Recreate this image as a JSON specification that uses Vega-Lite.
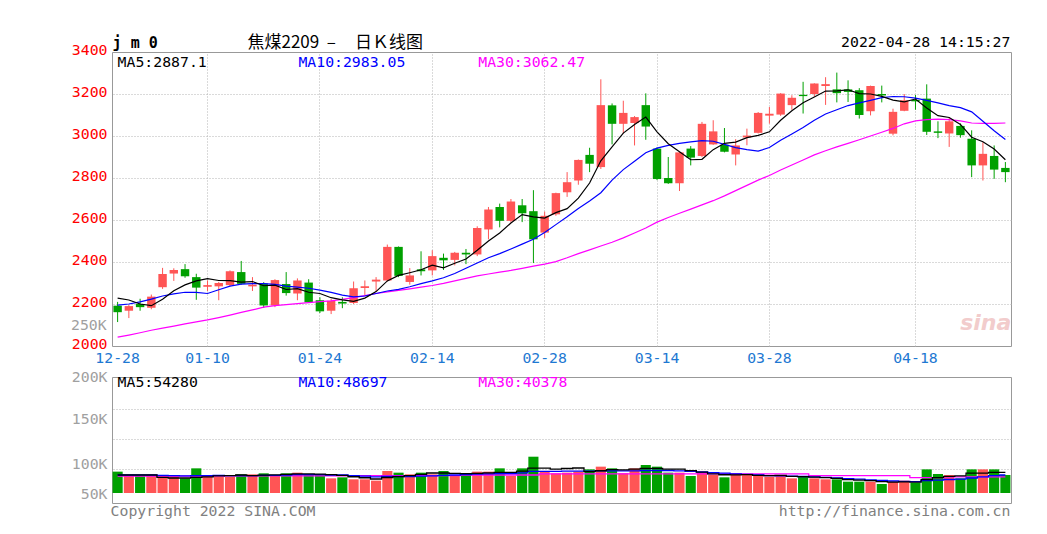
{
"$schema":"https://vega.github.io/schema/vega-lite/v6.json",
"background":"white",
"padding":{"left":70,"top":33,"right":5,"bottom":5},
"spacing":2,
"config":{"view":{"stroke":"#999","strokeWidth":1},"font":"DejaVu Sans Mono","axis":{"gridColor":"#b4b4b4","gridDash":[1,2],"tickSize":0,"domain":false,"labelFont":"DejaVu Sans Mono","labelFontSize":14.8,"title":null}},
"datasets":{"k":[
{"d":"12-28","o":2192,"h":2210,"l":2114,"c":2161,"m5":2228,"m10":2195,"m30":2042,"v":45600,"v5":40000,"v10":40000,"v30":38000},
{"d":"12-29","o":2168,"h":2195,"l":2133,"c":2190,"m5":2219,"m10":2200,"m30":2052,"v":38300,"v5":40000,"v10":40000,"v30":38000},
{"d":"12-30","o":2200,"h":2225,"l":2168,"c":2185,"m5":2200,"m10":2210,"m30":2063,"v":38300,"v5":40000,"v10":40000,"v30":38000},
{"d":"12-31","o":2182,"h":2245,"l":2175,"c":2235,"m5":2192,"m10":2223,"m30":2075,"v":38300,"v5":40000,"v10":40000,"v30":38000},
{"d":"01-04","o":2280,"h":2372,"l":2272,"c":2343,"m5":2223,"m10":2238,"m30":2085,"v":38300,"v5":36000,"v10":39500,"v30":38000},
{"d":"01-05","o":2345,"h":2370,"l":2310,"c":2362,"m5":2263,"m10":2248,"m30":2095,"v":38300,"v5":35000,"v10":39000,"v30":38000},
{"d":"01-06","o":2366,"h":2390,"l":2325,"c":2332,"m5":2291,"m10":2256,"m30":2105,"v":34400,"v5":35000,"v10":38500,"v30":38000},
{"d":"01-07","o":2328,"h":2344,"l":2220,"c":2278,"m5":2310,"m10":2255,"m30":2115,"v":51100,"v5":36000,"v10":39000,"v30":38000},
{"d":"01-10","o":2282,"h":2312,"l":2262,"c":2290,"m5":2321,"m10":2250,"m30":2124,"v":38300,"v5":37000,"v10":39000,"v30":38000},
{"d":"01-11","o":2284,"h":2305,"l":2218,"c":2300,"m5":2312,"m10":2268,"m30":2135,"v":37200,"v5":38500,"v10":39500,"v30":38000},
{"d":"01-12","o":2290,"h":2360,"l":2285,"c":2356,"m5":2311,"m10":2285,"m30":2147,"v":37200,"v5":39000,"v10":39000,"v30":38500},
{"d":"01-13","o":2352,"h":2405,"l":2292,"c":2296,"m5":2304,"m10":2295,"m30":2160,"v":41100,"v5":40000,"v10":39000,"v30":38500},
{"d":"01-14","o":2284,"h":2328,"l":2262,"c":2292,"m5":2307,"m10":2297,"m30":2172,"v":41100,"v5":39000,"v10":39000,"v30":38500},
{"d":"01-17","o":2298,"h":2304,"l":2181,"c":2193,"m5":2287,"m10":2297,"m30":2185,"v":42800,"v5":39900,"v10":39500,"v30":38500},
{"d":"01-18","o":2193,"h":2318,"l":2185,"c":2314,"m5":2290,"m10":2293,"m30":2192,"v":38300,"v5":40100,"v10":39500,"v30":38500},
{"d":"01-19","o":2295,"h":2352,"l":2240,"c":2252,"m5":2269,"m10":2285,"m30":2197,"v":42800,"v5":41200,"v10":40000,"v30":38500},
{"d":"01-20","o":2250,"h":2322,"l":2218,"c":2312,"m5":2273,"m10":2280,"m30":2202,"v":43900,"v5":41800,"v10":40500,"v30":38500},
{"d":"01-21","o":2302,"h":2318,"l":2205,"c":2208,"m5":2256,"m10":2275,"m30":2207,"v":41100,"v5":41800,"v10":40500,"v30":38500},
{"d":"01-24","o":2218,"h":2232,"l":2157,"c":2165,"m5":2250,"m10":2266,"m30":2211,"v":41100,"v5":41400,"v10":40500,"v30":38500},
{"d":"01-25","o":2168,"h":2224,"l":2152,"c":2215,"m5":2230,"m10":2255,"m30":2215,"v":34400,"v5":40700,"v10":40000,"v30":38500},
{"d":"01-26","o":2210,"h":2232,"l":2180,"c":2202,"m5":2220,"m10":2242,"m30":2222,"v":36100,"v5":39300,"v10":40000,"v30":38500},
{"d":"01-27","o":2205,"h":2307,"l":2200,"c":2275,"m5":2213,"m10":2234,"m30":2230,"v":32800,"v5":37100,"v10":39000,"v30":39000},
{"d":"01-28","o":2276,"h":2312,"l":2243,"c":2285,"m5":2228,"m10":2238,"m30":2240,"v":32800,"v5":35400,"v10":38000,"v30":39000},
{"d":"02-07","o":2307,"h":2328,"l":2259,"c":2316,"m5":2259,"m10":2250,"m30":2250,"v":30600,"v5":33300,"v10":37000,"v30":39000},
{"d":"02-08","o":2312,"h":2483,"l":2307,"c":2472,"m5":2310,"m10":2262,"m30":2258,"v":46700,"v5":35800,"v10":37500,"v30":39000},
{"d":"02-09","o":2472,"h":2474,"l":2328,"c":2334,"m5":2336,"m10":2270,"m30":2265,"v":43900,"v5":37400,"v10":37500,"v30":39000},
{"d":"02-10","o":2305,"h":2371,"l":2292,"c":2336,"m5":2349,"m10":2282,"m30":2272,"v":41100,"v5":39000,"v10":37500,"v30":39000},
{"d":"02-11","o":2365,"h":2451,"l":2336,"c":2356,"m5":2363,"m10":2297,"m30":2280,"v":43900,"v5":41200,"v10":38000,"v30":39000},
{"d":"02-14","o":2360,"h":2456,"l":2336,"c":2428,"m5":2385,"m10":2310,"m30":2288,"v":41100,"v5":43300,"v10":38500,"v30":39000},
{"d":"02-15","o":2420,"h":2440,"l":2362,"c":2408,"m5":2372,"m10":2325,"m30":2298,"v":46700,"v5":43300,"v10":39500,"v30":39000},
{"d":"02-16","o":2410,"h":2448,"l":2384,"c":2444,"m5":2394,"m10":2345,"m30":2310,"v":38300,"v5":42600,"v10":40000,"v30":39000},
{"d":"02-17","o":2444,"h":2462,"l":2390,"c":2436,"m5":2414,"m10":2370,"m30":2322,"v":41100,"v5":42200,"v10":40500,"v30":40000},
{"d":"02-18","o":2436,"h":2570,"l":2428,"c":2562,"m5":2456,"m10":2395,"m30":2334,"v":45600,"v5":42600,"v10":41500,"v30":40000},
{"d":"02-21","o":2555,"h":2662,"l":2508,"c":2650,"m5":2500,"m10":2420,"m30":2343,"v":45600,"v5":43500,"v10":42000,"v30":40000},
{"d":"02-22","o":2662,"h":2678,"l":2565,"c":2596,"m5":2538,"m10":2440,"m30":2352,"v":51100,"v5":44300,"v10":42500,"v30":40000},
{"d":"02-23","o":2596,"h":2700,"l":2588,"c":2688,"m5":2586,"m10":2462,"m30":2360,"v":38300,"v5":44300,"v10":42500,"v30":40000},
{"d":"02-24","o":2670,"h":2700,"l":2590,"c":2632,"m5":2626,"m10":2485,"m30":2370,"v":51100,"v5":46300,"v10":43500,"v30":40000},
{"d":"02-25","o":2642,"h":2742,"l":2395,"c":2508,"m5":2615,"m10":2508,"m30":2380,"v":70500,"v5":51300,"v10":46000,"v30":40000},
{"d":"02-28","o":2540,"h":2640,"l":2515,"c":2620,"m5":2609,"m10":2540,"m30":2390,"v":45600,"v5":51300,"v10":46000,"v30":42000},
{"d":"03-01","o":2627,"h":2730,"l":2620,"c":2728,"m5":2635,"m10":2578,"m30":2402,"v":42800,"v5":49700,"v10":46000,"v30":42000},
{"d":"03-02","o":2732,"h":2828,"l":2710,"c":2780,"m5":2654,"m10":2615,"m30":2420,"v":43900,"v5":50800,"v10":46500,"v30":42000},
{"d":"03-03","o":2788,"h":2888,"l":2768,"c":2886,"m5":2704,"m10":2655,"m30":2440,"v":45600,"v5":51700,"v10":46500,"v30":42000},
{"d":"03-04","o":2910,"h":2944,"l":2828,"c":2868,"m5":2776,"m10":2690,"m30":2458,"v":49400,"v5":45500,"v10":46500,"v30":42000},
{"d":"03-07","o":2852,"h":3270,"l":2843,"c":3147,"m5":2882,"m10":2730,"m30":2476,"v":53900,"v5":47100,"v10":47000,"v30":42000},
{"d":"03-08","o":3146,"h":3155,"l":2960,"c":3058,"m5":2948,"m10":2790,"m30":2494,"v":51100,"v5":48800,"v10":47000,"v30":42000},
{"d":"03-09","o":3058,"h":3168,"l":3012,"c":3110,"m5":3014,"m10":2840,"m30":2515,"v":42800,"v5":48600,"v10":47000,"v30":42000},
{"d":"03-10","o":3062,"h":3095,"l":2955,"c":3090,"m5":3055,"m10":2880,"m30":2538,"v":51100,"v5":49700,"v10":47000,"v30":42000},
{"d":"03-11","o":3147,"h":3203,"l":2982,"c":3045,"m5":3090,"m10":2920,"m30":2562,"v":56700,"v5":51100,"v10":47500,"v30":42000},
{"d":"03-14","o":2940,"h":2945,"l":2790,"c":2795,"m5":3020,"m10":2942,"m30":2590,"v":53900,"v5":51100,"v10":47500,"v30":42000},
{"d":"03-15","o":2800,"h":2900,"l":2772,"c":2775,"m5":2963,"m10":2955,"m30":2612,"v":43900,"v5":49700,"v10":47500,"v30":42000},
{"d":"03-16","o":2775,"h":2925,"l":2738,"c":2922,"m5":2925,"m10":2965,"m30":2632,"v":43900,"v5":49900,"v10":47000,"v30":42000},
{"d":"03-17","o":2940,"h":2952,"l":2860,"c":2897,"m5":2887,"m10":2972,"m30":2652,"v":38300,"v5":47400,"v10":46000,"v30":42000},
{"d":"03-18","o":2905,"h":3067,"l":2900,"c":3058,"m5":2889,"m10":2978,"m30":2672,"v":43900,"v5":44800,"v10":45000,"v30":42000},
{"d":"03-21","o":2960,"h":3075,"l":2958,"c":3022,"m5":2935,"m10":2975,"m30":2692,"v":40000,"v5":42000,"v10":44000,"v30":42000},
{"d":"03-22","o":2958,"h":3038,"l":2922,"c":2925,"m5":2965,"m10":2960,"m30":2715,"v":36100,"v5":40400,"v10":43000,"v30":42000},
{"d":"03-23","o":2912,"h":2985,"l":2860,"c":2955,"m5":2971,"m10":2945,"m30":2740,"v":42800,"v5":40200,"v10":42000,"v30":42000},
{"d":"03-24","o":2993,"h":3035,"l":2956,"c":3002,"m5":2992,"m10":2935,"m30":2765,"v":40000,"v5":40600,"v10":41000,"v30":42000},
{"d":"03-25","o":3015,"h":3114,"l":3012,"c":3110,"m5":3003,"m10":2928,"m30":2790,"v":38300,"v5":39400,"v10":40000,"v30":42000},
{"d":"03-28","o":3097,"h":3138,"l":3059,"c":3106,"m5":3020,"m10":2945,"m30":2812,"v":37200,"v5":38900,"v10":39000,"v30":42000},
{"d":"03-29","o":3102,"h":3204,"l":3096,"c":3202,"m5":3075,"m10":2980,"m30":2838,"v":38300,"v5":39300,"v10":38500,"v30":42000},
{"d":"03-30","o":3147,"h":3194,"l":3125,"c":3182,"m5":3120,"m10":3010,"m30":2862,"v":34400,"v5":37600,"v10":38000,"v30":42000},
{"d":"03-31","o":3196,"h":3258,"l":3107,"c":3190,"m5":3158,"m10":3040,"m30":2886,"v":38300,"v5":37300,"v10":37500,"v30":42000},
{"d":"04-01","o":3200,"h":3251,"l":3188,"c":3250,"m5":3186,"m10":3075,"m30":2910,"v":34400,"v5":36500,"v10":37000,"v30":39000},
{"d":"04-06","o":3238,"h":3280,"l":3148,"c":3247,"m5":3214,"m10":3105,"m30":2930,"v":32800,"v5":35600,"v10":36000,"v30":39000},
{"d":"04-07","o":3222,"h":3302,"l":3160,"c":3204,"m5":3215,"m10":3125,"m30":2948,"v":32800,"v5":34500,"v10":35000,"v30":39000},
{"d":"04-08","o":3222,"h":3265,"l":3162,"c":3210,"m5":3220,"m10":3145,"m30":2965,"v":28900,"v5":32400,"v10":34000,"v30":39000},
{"d":"04-11","o":3218,"h":3228,"l":3083,"c":3100,"m5":3202,"m10":3158,"m30":2982,"v":28900,"v5":31600,"v10":33000,"v30":39000},
{"d":"04-12","o":3118,"h":3240,"l":3098,"c":3238,"m5":3200,"m10":3170,"m30":3000,"v":28900,"v5":30500,"v10":32000,"v30":39000},
{"d":"04-13","o":3200,"h":3240,"l":3160,"c":3193,"m5":3189,"m10":3183,"m30":3018,"v":25000,"v5":28900,"v10":31000,"v30":39000},
{"d":"04-14","o":3011,"h":3130,"l":3003,"c":3115,"m5":3171,"m10":3188,"m30":3036,"v":28900,"v5":28100,"v10":30000,"v30":39000},
{"d":"04-15","o":3120,"h":3200,"l":3118,"c":3170,"m5":3163,"m10":3187,"m30":3058,"v":30600,"v5":28500,"v10":29500,"v30":39000},
{"d":"04-18","o":3172,"h":3195,"l":3125,"c":3165,"m5":3176,"m10":3180,"m30":3072,"v":27200,"v5":28100,"v10":29000,"v30":35500},
{"d":"04-19","o":3178,"h":3246,"l":3005,"c":3020,"m5":3133,"m10":3170,"m30":3078,"v":49400,"v5":32200,"v10":30500,"v30":35500},
{"d":"04-20","o":3022,"h":3070,"l":2990,"c":3015,"m5":3097,"m10":3158,"m30":3080,"v":41700,"v5":35600,"v10":31500,"v30":35500},
{"d":"04-21","o":3012,"h":3090,"l":2948,"c":3070,"m5":3088,"m10":3145,"m30":3078,"v":40000,"v5":37800,"v10":32500,"v30":37000},
{"d":"04-22","o":3048,"h":3060,"l":2992,"c":3004,"m5":3055,"m10":3135,"m30":3072,"v":34400,"v5":38500,"v10":33000,"v30":37000},
{"d":"04-25","o":2987,"h":3027,"l":2804,"c":2860,"m5":2994,"m10":3115,"m30":3062,"v":49400,"v5":43000,"v10":35000,"v30":37000},
{"d":"04-26","o":2860,"h":2970,"l":2788,"c":2915,"m5":2973,"m10":3070,"m30":3060,"v":49400,"v5":43000,"v10":37000,"v30":37000},
{"d":"04-27","o":2905,"h":2955,"l":2796,"c":2840,"m5":2938,"m10":3025,"m30":3060,"v":49400,"v5":44500,"v10":39000,"v30":37000},
{"d":"04-28","o":2848,"h":2876,"l":2780,"c":2828,"m5":2887,"m10":2983,"m30":3062,"v":40000,"v5":44500,"v10":40000,"v30":37000}
]},
"vconcat":[
{
"width":899,"height":294,
"data":{"name":"k"},
"resolve":{"axis":{"x":"independent","y":"independent"}},
"layer":[
{"mark":{"type":"rule","strokeWidth":1},
 "encoding":{
  "x":{"field":"d","type":"ordinal","scale":{"domain":["12-28","12-29","12-30","12-31","01-04","01-05","01-06","01-07","01-10","01-11","01-12","01-13","01-14","01-17","01-18","01-19","01-20","01-21","01-24","01-25","01-26","01-27","01-28","02-07","02-08","02-09","02-10","02-11","02-14","02-15","02-16","02-17","02-18","02-21","02-22","02-23","02-24","02-25","02-28","03-01","03-02","03-03","03-04","03-07","03-08","03-09","03-10","03-11","03-14","03-15","03-16","03-17","03-18","03-21","03-22","03-23","03-24","03-25","03-28","03-29","03-30","03-31","04-01","04-06","04-07","04-08","04-11","04-12","04-13","04-14","04-15","04-18","04-19","04-20","04-21","04-22","04-25","04-26","04-27","04-28"],"paddingInner":0,"paddingOuter":0},
   "axis":{"values":["12-28","01-10","01-24","02-14","02-28","03-14","03-28","04-18"],"grid":false,"labelAngle":0,"labelColor":"#1e78d2","labelPadding":4}},
  "y":{"field":"l","type":"quantitative","scale":{"domain":[2000,3400],"nice":false,"zero":false},
   "axis":{"values":[2000,2200,2400,2600,2800,3000,3200,3400],"format":"d","grid":false,"labelColor":"#ff0000","labelPadding":5,"labelOffset":-2,"labelOverlap":false}},
  "y2":{"field":"h"},
  "color":{"condition":{"test":"datum.c >= datum.o","value":"#ff5555"},"value":"#00a000"}}},
{"mark":{"type":"bar","width":{"band":0.75}},
 "encoding":{
  "x":{"field":"d","type":"ordinal","axis":{"orient":"top","values":["01-10","01-24","02-14","02-28","03-14","03-28","04-18"],"grid":true,"labels":false,"ticks":false,"domain":false}},
  "y":{"field":"o","type":"quantitative","axis":{"orient":"right","values":[2200,2400,2600,2800,3000,3200],"grid":true,"labels":false,"ticks":false,"domain":false}},
  "y2":{"field":"c"},
  "color":{"condition":{"test":"datum.c >= datum.o","value":"#ff5555"},"value":"#00a000"}}},
{"mark":{"type":"line","color":"#ff00ff","strokeWidth":1.2},"encoding":{"x":{"field":"d","type":"ordinal","axis":null},"y":{"field":"m30","type":"quantitative","axis":null}}},
{"mark":{"type":"line","color":"#0000ff","strokeWidth":1.2},"encoding":{"x":{"field":"d","type":"ordinal","axis":null},"y":{"field":"m10","type":"quantitative","axis":null}}},
{"mark":{"type":"line","color":"#000000","strokeWidth":1.2},"encoding":{"x":{"field":"d","type":"ordinal","axis":null},"y":{"field":"m5","type":"quantitative","axis":null}}},
{"data":{"values":[{}]},"mark":{"type":"text","text":"250K","align":"right","dx":-11,"fontSize":14.8,"color":"#a0a0a0"},"encoding":{"x":{"datum":"12-28","type":"ordinal","axis":null},"y":{"datum":2095,"type":"quantitative","axis":null}}},
{"data":{"values":[{}]},"mark":{"type":"text","text":"j m 0","align":"left","dx":-5,"fontWeight":"bold","fontSize":15,"color":"#000"},"encoding":{"x":{"datum":"12-28","type":"ordinal","axis":null},"y":{"datum":3442,"type":"quantitative","axis":null}}},
{"data":{"values":[{}]},"mark":{"type":"text","text":"焦煤2209\u00a0\u00a0–\u00a0\u00a0\u00a0\u00a0\u00a0日Ｋ线图","align":"left","dx":-5,"font":"Noto Sans CJK SC","fontSize":17,"color":"#000"},"encoding":{"x":{"datum":"01-14","type":"ordinal","axis":null},"y":{"datum":3442,"type":"quantitative","axis":null}}},
{"data":{"values":[{}]},"mark":{"type":"text","text":"2022-04-28 14:15:27","align":"right","dx":5,"fontSize":14.8,"color":"#000"},"encoding":{"x":{"datum":"04-28","type":"ordinal","axis":null},"y":{"datum":3442,"type":"quantitative","axis":null}}},
{"data":{"values":[{}]},"mark":{"type":"text","text":"MA5:2887.1","align":"left","dx":0,"fontSize":14.8,"color":"#000"},"encoding":{"x":{"datum":"12-28","type":"ordinal","axis":null},"y":{"datum":3349,"type":"quantitative","axis":null}}},
{"data":{"values":[{}]},"mark":{"type":"text","text":"MA10:2983.05","align":"left","dx":1,"fontSize":14.8,"color":"#0000ff"},"encoding":{"x":{"datum":"01-20","type":"ordinal","axis":null},"y":{"datum":3349,"type":"quantitative","axis":null}}},
{"data":{"values":[{}]},"mark":{"type":"text","text":"MA30:3062.47","align":"left","dx":1,"fontSize":14.8,"color":"#ff00ff"},"encoding":{"x":{"datum":"02-18","type":"ordinal","axis":null},"y":{"datum":3349,"type":"quantitative","axis":null}}},
{"data":{"values":[{}]},"mark":{"type":"text","text":"sina","align":"right","dx":6,"font":"DejaVu Sans","fontSize":22,"fontStyle":"italic","fontWeight":"bold","color":"#f2cccc"},"encoding":{"x":{"datum":"04-28","type":"ordinal","axis":null},"y":{"datum":2110,"type":"quantitative","axis":null}}}
]
},
{
"width":899,"height":126,
"data":{"name":"k"},
"resolve":{"axis":{"y":"independent"}},
"layer":[
{"mark":{"type":"bar","width":{"band":0.9}},
 "encoding":{
  "x":{"field":"d","type":"ordinal","scale":{"domain":["12-28","12-29","12-30","12-31","01-04","01-05","01-06","01-07","01-10","01-11","01-12","01-13","01-14","01-17","01-18","01-19","01-20","01-21","01-24","01-25","01-26","01-27","01-28","02-07","02-08","02-09","02-10","02-11","02-14","02-15","02-16","02-17","02-18","02-21","02-22","02-23","02-24","02-25","02-28","03-01","03-02","03-03","03-04","03-07","03-08","03-09","03-10","03-11","03-14","03-15","03-16","03-17","03-18","03-21","03-22","03-23","03-24","03-25","03-28","03-29","03-30","03-31","04-01","04-06","04-07","04-08","04-11","04-12","04-13","04-14","04-15","04-18","04-19","04-20","04-21","04-22","04-25","04-26","04-27","04-28"],"paddingInner":0,"paddingOuter":0},
   "axis":{"values":["01-10","01-24","02-14","02-28","03-14","03-28","04-18"],"grid":true,"labels":false,"ticks":false,"domain":false}},
  "y":{"field":"v","type":"quantitative","scale":{"domain":[-6667,203333],"nice":false,"zero":false},
   "axis":{"values":[7200,57200,132800,203000],"labelExpr":"datum.value > 180000 ? '200K' : datum.value > 100000 ? '150K' : datum.value > 30000 ? '100K' : '50K'","grid":false,"labelColor":"#a0a0a0","labelPadding":5,"labelOverlap":false}},
  "y2":{"datum":10000},
  "color":{"condition":{"test":"datum.c >= datum.o","value":"#ff5555"},"value":"#00a000"}}},
{"mark":{"type":"line","interpolate":"step","color":"#ff00ff","strokeWidth":1.3},"encoding":{"x":{"field":"d","type":"ordinal","axis":null},"y":{"field":"v30","type":"quantitative","axis":{"orient":"right","values":[50000,100000,150000],"grid":true,"labels":false,"ticks":false,"domain":false}}}},
{"mark":{"type":"line","interpolate":"step","color":"#0000ff","strokeWidth":1.3},"encoding":{"x":{"field":"d","type":"ordinal","axis":null},"y":{"field":"v10","type":"quantitative","axis":null}}},
{"mark":{"type":"line","interpolate":"step","color":"#000000","strokeWidth":1.3},"encoding":{"x":{"field":"d","type":"ordinal","axis":null},"y":{"field":"v5","type":"quantitative","axis":null}}},
{"data":{"values":[{}]},"mark":{"type":"text","text":"MA5:54280","align":"left","dx":0,"fontSize":14.8,"color":"#000"},"encoding":{"x":{"datum":"12-28","type":"ordinal","axis":null},"y":{"datum":193000,"type":"quantitative","axis":null}}},
{"data":{"values":[{}]},"mark":{"type":"text","text":"MA10:48697","align":"left","dx":1,"fontSize":14.8,"color":"#0000ff"},"encoding":{"x":{"datum":"01-20","type":"ordinal","axis":null},"y":{"datum":193000,"type":"quantitative","axis":null}}},
{"data":{"values":[{}]},"mark":{"type":"text","text":"MA30:40378","align":"left","dx":1,"fontSize":14.8,"color":"#ff00ff"},"encoding":{"x":{"datum":"02-18","type":"ordinal","axis":null},"y":{"datum":193000,"type":"quantitative","axis":null}}},
{"data":{"values":[{}]},"mark":{"type":"text","text":"Copyright 2022 SINA.COM","align":"left","dx":-7,"fontSize":14.8,"color":"#808080"},"encoding":{"x":{"datum":"12-28","type":"ordinal","axis":null},"y":{"datum":-21667,"type":"quantitative","axis":null}}},
{"data":{"values":[{}]},"mark":{"type":"text","text":"http://finance.sina.com.cn","align":"right","dx":5,"fontSize":14.8,"color":"#808080"},"encoding":{"x":{"datum":"04-28","type":"ordinal","axis":null},"y":{"datum":-21667,"type":"quantitative","axis":null}}}
]
}
]
}
